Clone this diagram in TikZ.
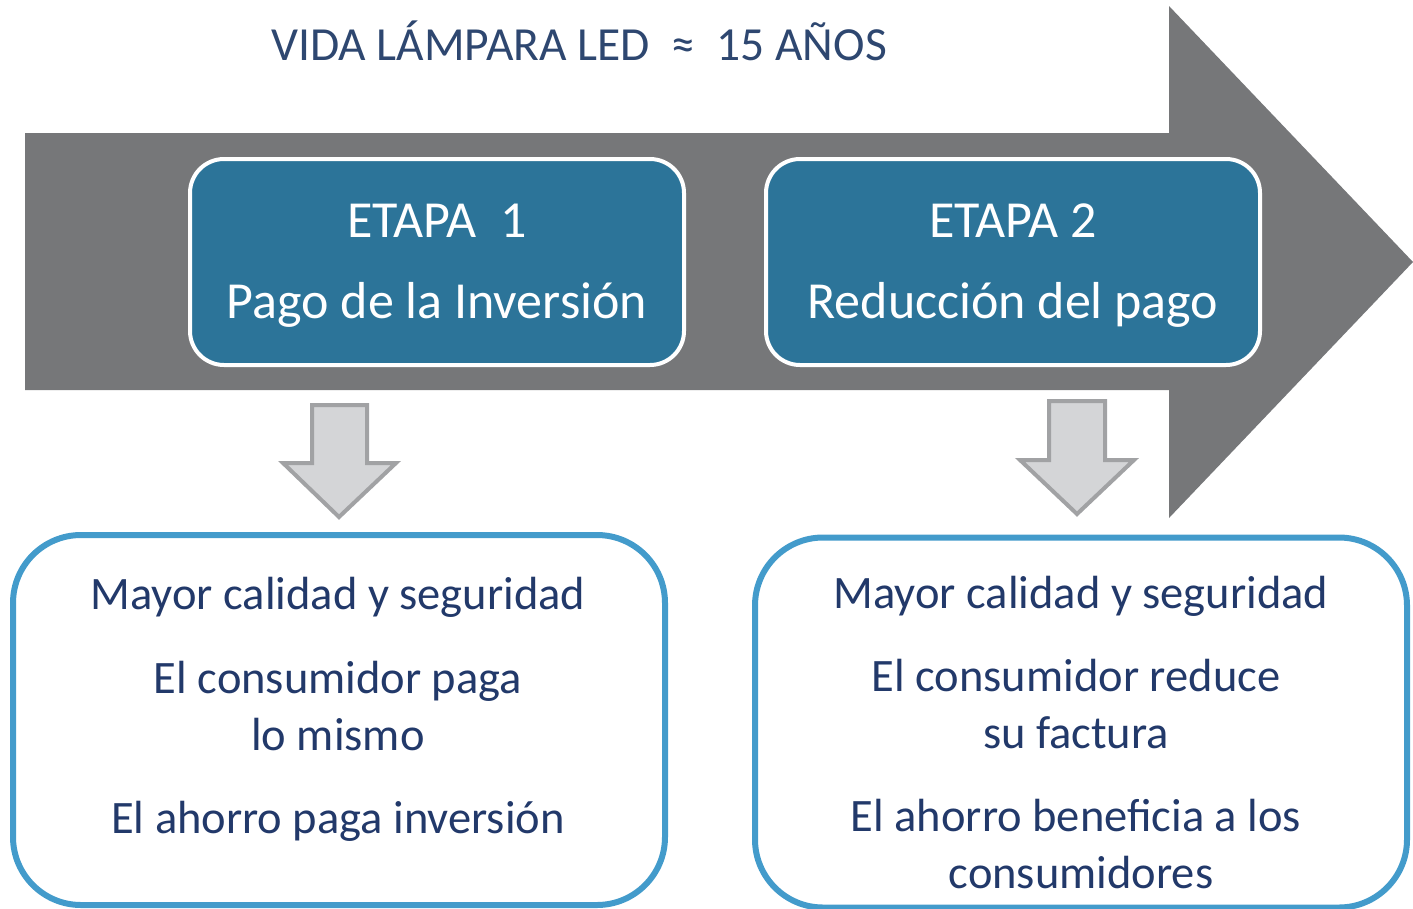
\documentclass[tikz,border=0pt]{standalone}
\usepackage{fontspec}
\setmainfont{Carlito}
\definecolor{biggray}{HTML}{767779}
\definecolor{stagefill}{HTML}{2C7499}
\definecolor{titlecol}{HTML}{2E4770}
\definecolor{navy}{HTML}{22396A}
\definecolor{boxblue}{HTML}{439BCB}
\definecolor{dafill}{HTML}{D4D5D7}
\definecolor{daline}{HTML}{A1A2A4}
\tikzset{
  stagebox/.style={draw=white, line width=4pt, fill=stagefill, rounded corners=34pt, minimum width=494pt, minimum height=206pt, inner sep=0pt},
  resultbox/.style={draw=boxblue, line width=6pt, fill=white, rounded corners=68pt, minimum width=652pt, minimum height=370pt, inner sep=0pt},
  stagetext/.style={text=white, anchor=base, inner sep=0pt, font=\fontsize{52}{60}\selectfont},
  restext/.style={text=navy, anchor=base, inner sep=0pt, font=\fontsize{46.5}{54}\selectfont},
  downarrow/.style={draw=daline, line width=4pt, fill=dafill, line join=miter},
}
\begin{document}
\begin{tikzpicture}[x=1pt,y=-1pt]
\useasboundingbox (0,0) rectangle (1413,908);
% big arrow
\fill[biggray] (25,133) -- (1169,133) -- (1169,6) -- (1413,262) -- (1169,518) -- (1169,390) -- (25,390) -- cycle;
% title
\node[text=titlecol, anchor=base, inner sep=0pt, font=\fontsize{47.5}{54}\selectfont] (title) at (579,60) {VIDA LÁMPARA LED\ \ ≈\ \ 15 AÑOS};
% stage boxes
\node[stagebox] (s1) at (437,262) {};
\node[stagebox] (s2) at (1013,262) {};
\node[stagetext] (s1a) at (437,237) {ETAPA\ \ 1};
\node[stagetext] (s1b) at (437,318) {Pago de la Inversión};
\node[stagetext] (s2a) at (1013,237) {ETAPA 2};
\node[stagetext] (s2b) at (1013,318) {Reducción del pago};
% down arrows
\draw[downarrow] (312,405) -- (367,405) -- (367,463) -- (396,463) -- (339,517) -- (283,463) -- (312,463) -- cycle;
\draw[downarrow] (1049,401) -- (1105,401) -- (1105,460) -- (1134,460) -- (1077,514) -- (1020,460) -- (1049,460) -- cycle;
% result boxes
\node[resultbox] (r1) at (339,720) {};
\node[resultbox] (r2) at (1081,722.5) {};
\node[restext] (r1a) at (338,609) {Mayor calidad y seguridad};
\node[restext] (r1b) at (338,693) {El consumidor paga};
\node[restext] (r1c) at (338,750) {lo mismo};
\node[restext] (r1d) at (338,833) {El ahorro paga inversión};
\node[restext] (r2a) at (1081,608) {Mayor calidad y seguridad};
\node[restext] (r2b) at (1076,691) {El consumidor reduce};
\node[restext] (r2c) at (1076,748) {su factura};
\node[restext] (r2d) at (1076,831) {El ahorro beneficia a los};
\node[restext] (r2e) at (1081,888) {consumidores};
\end{tikzpicture}
\end{document}
